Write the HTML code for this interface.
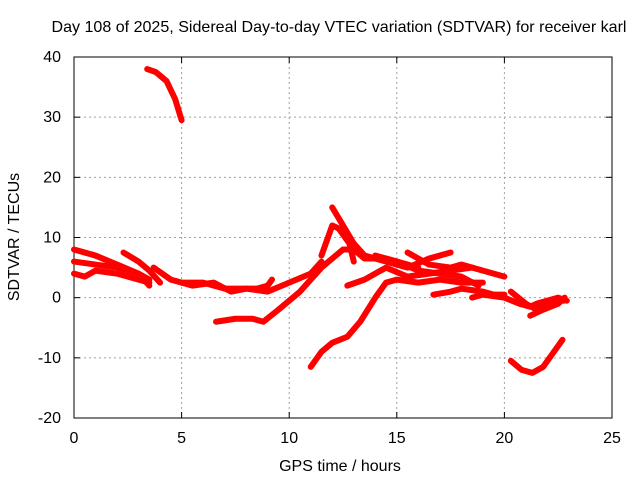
<!DOCTYPE html>
<html><head><meta charset="utf-8"><style>
body{margin:0;background:#fff}
svg{display:block;font-family:"Liberation Sans",sans-serif;font-size:16px}
</style></head><body>
<svg id="chart" width="640" height="480">
<rect width="640" height="480" fill="#fff"/>
<g id="grid"></g>
<rect x="74" y="57" width="538" height="361" fill="none" stroke="#000" stroke-width="1"/>
<g id="ticks"></g>
<g id="series"></g>
<text x="339" y="32" text-anchor="middle" textLength="575" lengthAdjust="spacingAndGlyphs">Day 108 of 2025, Sidereal Day-to-day VTEC variation (SDTVAR) for receiver karl</text>
<text x="340" y="471" text-anchor="middle">GPS time / hours</text>
<text transform="translate(19,237) rotate(-90)" text-anchor="middle">SDTVAR / TECUs</text>
</svg>
<script>
const xTicks=[0,5,10,15,20,25];
const yTicks=[-20,-10,0,10,20,30,40];
const s1=[[3.4,38],[3.8,37.5],[4.3,36],[4.7,33],[5,29.5]];
const s2=[[0,8],[1,7],[2,5.5],[3,4],[3.5,2]];
const s3=[[0,6],[1,5.5],[2,5],[3,4],[3.5,3]];
const s4=[[0,4],[0.5,3.5],[1,4.5],[2,4],[3,3],[3.5,2.5]];
const s5=[[2.3,7.5],[3,6],[3.5,4.5],[4,2.5]];
const s6=[[3.7,5],[4.5,3],[5,2.5],[6,2.5],[7,1.5],[8,1.5],[9,1],[10,2.5],[11,4],[11.5,6]];
const s7=[[5,2.5],[5.5,2],[6.5,2.5],[7.3,1],[8,1.5],[8.5,1.5],[9,2],[9.2,3]];
const s8=[[6.6,-4],[7.5,-3.5],[8.3,-3.5],[8.8,-4],[9.5,-2],[10.5,1],[11.5,5],[12.5,8],[13,8],[13.5,6.5],[14.5,6.5],[15.5,5.5],[16,5]];
const s9=[[11,-11.5],[11.5,-9],[12,-7.5],[12.7,-6.5],[13.3,-4],[14,0],[14.5,2.5],[15,3],[16,2.5],[17,3],[18,2.5],[19,2.5]];
const s10=[[11.5,7],[12,12],[12.3,11.5],[12.8,9],[13,6]];
const s11=[[12,15],[12.5,12],[13,9],[13.5,7],[14,6.5],[15,5.5],[15.5,5],[16.5,6.5],[17.5,7.5]];
const s12=[[12.7,2],[13.5,3],[14.5,5],[15.5,3.5],[16.5,4],[17.5,4.5],[18.5,5]];
const s13=[[15.5,7.5],[16.5,5.5],[17.5,5],[18,5.5],[19,4.5],[20,3.5]];
const s14=[[16.7,0.5],[17.5,1],[18,1.5],[19,1],[19.5,0.5],[20,0.5]];
const s15=[[18.5,0],[19,0.5],[20,0],[20.7,-1],[21.2,-1.5],[21.5,-1],[22,-0.5],[22.5,0],[22.9,-0.5]];
const s16=[[20.3,1],[21,-1],[21.5,-2],[22,-1.5],[22.5,-0.5],[22.8,-0.5]];
const s17=[[21.2,-3],[21.8,-2],[22.5,-1],[22.8,0]];
const s18=[[20.3,-10.5],[20.8,-12],[21.3,-12.5],[21.8,-11.5],[22.3,-9],[22.7,-7]];
const s19=[[14,7],[15,6],[16,4.5],[17,4],[18,3.5],[18.8,2]];
const allSeries=[s1,s2,s3,s4,s5,s6,s7,s8,s9,s10,s11,s12,s13,s14,s15,s16,s17,s18,s19];
const NS="http://www.w3.org/2000/svg";
const X0=74,X1=612,Y0=418,Y1=57;
function sx(v){return X0+(v-0)/(25-0)*(X1-X0);}
function sy(v){return Y0-(v+20)/(60)*(Y0-Y1);}
function mk(tag,attrs,parent){const e=document.createElementNS(NS,tag);for(const k in attrs)e.setAttribute(k,attrs[k]);document.getElementById(parent).appendChild(e);return e;}
xTicks.forEach(t=>{
  const x=sx(t);
  if(t>0&&t<25){const g=mk('line',{x1:x,x2:x,y1:Y1,y2:Y0,stroke:'#a0a0a0','stroke-dasharray':'2,3'},'grid');
  
  }
  mk('line',{x1:x,x2:x,y1:Y0,y2:Y0-6,stroke:'#000'},'ticks');
  mk('line',{x1:x,x2:x,y1:Y1,y2:Y1+6,stroke:'#000'},'ticks');
  const l=mk('text',{x:x,y:443,'text-anchor':'middle'},'ticks');l.textContent=t;
  
  
});
yTicks.forEach(t=>{
  const y=sy(t);
  if(t>-20&&t<40){const g=mk('line',{x1:X0,x2:X1,y1:y,y2:y,stroke:'#a0a0a0','stroke-dasharray':'2,3'},'grid');
  
  }
  mk('line',{x1:X0,x2:X0+6,y1:y,y2:y,stroke:'#000'},'ticks');
  mk('line',{x1:X1,x2:X1-6,y1:y,y2:y,stroke:'#000'},'ticks');
  const l=mk('text',{x:61,y:y+5,'text-anchor':'end'},'ticks');l.textContent=t;
  
  
});
allSeries.forEach((s,i)=>{
  const p=mk('polyline',{points:s.map(d=>sx(d[0])+','+sy(d[1])).join(' '),fill:'none',stroke:'#ff0000','stroke-width':6,'stroke-linejoin':'round','stroke-linecap':'round'},'series');
  
  
});
</script>
</body></html>
